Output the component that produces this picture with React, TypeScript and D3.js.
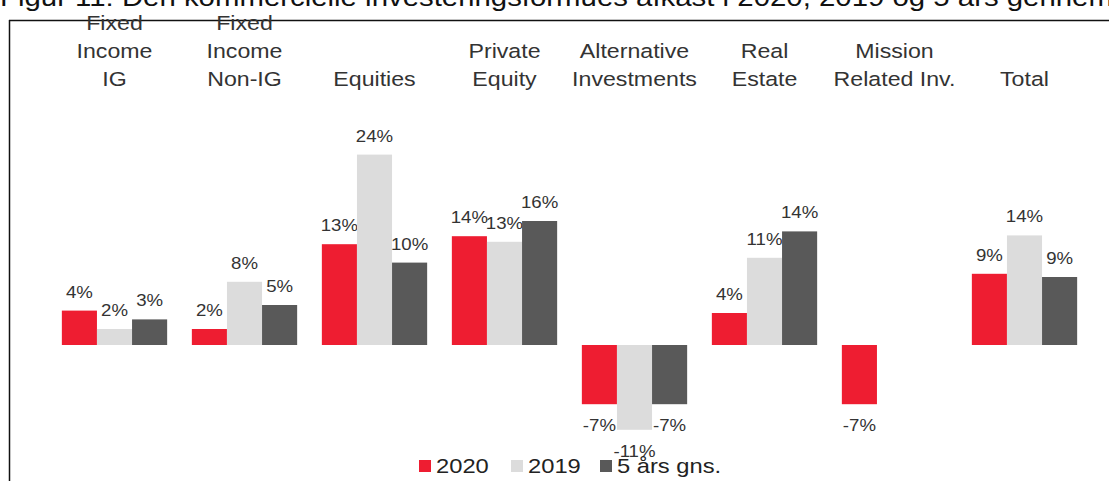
import React from "react";
import * as d3 from "d3";

const title = "Figur 11: Den kommercielle investeringsformues afkast i 2020, 2019 og 5 års gennemsnit";
const categories = [
  "Fixed\nIncome\nIG",
  "Fixed\nIncome\nNon-IG",
  "Equities",
  "Private\nEquity",
  "Alternative\nInvestments",
  "Real\nEstate",
  "Mission\nRelated Inv.",
  "Total",
];
const seriesNames = ["2020", "2019", "5 års gns."];
const v2020 = [4.3, 2.0, 12.6, 13.6, -7.4, 4.0, -7.4, 8.9];
const v2019: (number | null)[] = [2.0, 7.9, 23.8, 12.9, -10.6, 10.9, null, 13.7];
const v5y: (number | null)[] = [3.2, 5.0, 10.3, 15.5, -7.4, 14.2, null, 8.5];
const colors = ["#EE1D31", "#DCDCDC", "#595959"];

const W = 1109;
const H = 481;
const SX = 1.13;
const FONT = "'Liberation Sans', Arial, sans-serif";
const TXT = "#333333";

export default function App() {
  const series = [v2020, v2019, v5y];
  const x = d3
    .scaleBand<number>()
    .domain(d3.range(categories.length))
    .range([49.5, 1089.5])
    .paddingInner(0.19)
    .paddingOuter(0.095);
  const x1 = d3.scaleBand<number>().domain([0, 1, 2]).range([0, x.bandwidth()]);
  const y = d3.scaleLinear().domain([-15, 30]).range([465, 105]);

  const T = (props: any) => {
    const { x: tx, y: ty, children, size, anchor = "middle", ...rest } = props;
    return (
      <text
        transform={`translate(${tx},${ty}) scale(${SX},1)`}
        fontSize={size}
        textAnchor={anchor}
        fontFamily={FONT}
        fill={TXT}
        {...rest}
      >
        {children}
      </text>
    );
  };

  const legendX = [419, 511, 600];

  return (
    <svg
      width={W}
      height={H}
      style={{ position: "absolute", left: 0, top: 0, background: "#fff" }}
    >
      <rect x={0} y={0} width={W} height={H} fill="#fff" />
      <T x={0} y={5.5} size={26} anchor="start" fill="#111">
        {title}
      </T>
      <line x1={9} x2={W} y1={20.5} y2={20.5} stroke="#111" strokeWidth={1.5} />
      <line x1={9.5} x2={9.5} y1={20} y2={H} stroke="#111" strokeWidth={1.5} />

      {categories.map((c, i) => {
        const lines = c.split("\n");
        const cx = (x(i) as number) + x.bandwidth() / 2;
        return lines.map((ln, j) => (
          <T key={`c${i}-${j}`} x={cx} y={86 - (lines.length - 1 - j) * 28} size={20.5}>
            {ln}
          </T>
        ));
      })}

      {series.map((vals, s) =>
        vals.map((v, i) => {
          if (v === null || v === undefined) return null;
          const bx = (x(i) as number) + (x1(s) as number);
          const bw = x1.bandwidth();
          const y0 = y(0);
          const yv = y(v);
          const label = `${Math.round(v)}%`;
          const ly = v >= 0 ? yv - 13 : yv + 27;
          return (
            <g key={`b${s}-${i}`}>
              <rect
                x={bx}
                y={Math.min(y0, yv)}
                width={bw}
                height={Math.abs(yv - y0)}
                fill={colors[s]}
              />
              <T x={bx + bw / 2} y={ly} size={16.5}>
                {label}
              </T>
            </g>
          );
        })
      )}

      {seriesNames.map((n, s) => (
        <g key={`l${s}`}>
          <rect x={legendX[s]} y={460} width={12} height={12} fill={colors[s]} />
          <T x={legendX[s] + 17} y={473} size={21} anchor="start" fill="#222">
            {n}
          </T>
        </g>
      ))}
    </svg>
  );
}
